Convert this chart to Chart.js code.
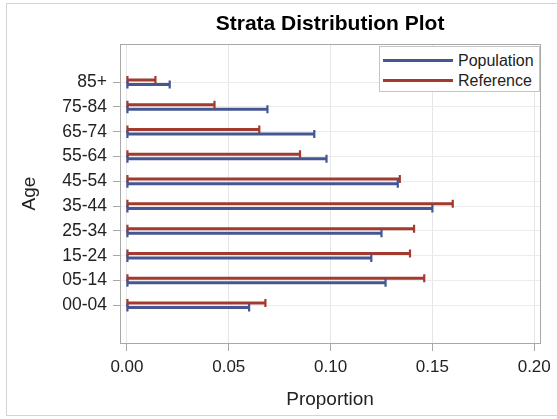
<!DOCTYPE html>
<html>
<head>
<meta charset="utf-8">
<script src="https://cdn.jsdelivr.net/npm/chart.js@4.4.1/dist/chart.umd.min.js"></script>
<style>
  html,body{margin:0;padding:0;background:#fff;}
  #wrap{position:relative;width:557px;height:419px;overflow:hidden;}
  #frame{position:absolute;left:6px;top:3px;width:560px;height:413px;border:1px solid #d4d4d4;box-sizing:border-box;pointer-events:none;}
  #legend{position:absolute;left:379px;top:46px;width:161px;height:46px;border:1px solid #c4c4c4;background:#fff;box-sizing:border-box;
    font-family:"Liberation Sans",Arial,sans-serif;font-size:16px;color:#222;}
  #legend .row{position:absolute;left:3px;height:20px;line-height:20px;white-space:nowrap;}
  #legend .ln{display:inline-block;width:70px;height:3px;vertical-align:middle;margin-right:5px;position:relative;top:-1px;}
</style>
</head>
<body>
<div id="wrap">
  <canvas id="c" width="557" height="419"></canvas>
  <div id="frame"></div>
  <div id="legend"></div>
</div>
<script>
const categories = ["85+","75-84","65-74","55-64","45-54","35-44","25-34","15-24","05-14","00-04"];
const population = [0.021,0.069,0.092,0.098,0.133,0.150,0.125,0.120,0.127,0.060];
const reference  = [0.014,0.043,0.065,0.085,0.134,0.160,0.141,0.139,0.146,0.068];
const xTicks = [0,0.05,0.10,0.15,0.20];

const BLUE="#445694", RED="#A23A2E";
const FONT='"Liberation Sans", Arial, sans-serif';
Chart.defaults.font.family = FONT;
Chart.defaults.color = "#222";

const pts = arr => arr.map((v,i)=>({x:v,y:i}));

// end caps on both ends of each bar
const caps = {
  id:"caps",
  afterDatasetsDraw(chart){
    const ctx = chart.ctx;
    chart.data.datasets.forEach((ds,di)=>{
      chart.getDatasetMeta(di).data.forEach(bar=>{
        const {x,y,base} = bar.getProps(["x","y","base"],true);
        ctx.save(); ctx.strokeStyle = ds.backgroundColor; ctx.lineWidth = 2.2;
        ctx.beginPath();
        [base,x].forEach(px=>{ ctx.moveTo(px,y-4); ctx.lineTo(px,y+4); });
        ctx.stroke(); ctx.restore();
      });
    });
  }
};
const box = {
  id:"box",
  afterDraw(chart){
    const {left,top,right,bottom} = chart.chartArea, ctx = chart.ctx;
    ctx.save(); ctx.strokeStyle="#a8a8a8"; ctx.lineWidth=1;
    ctx.strokeRect(Math.round(left)+0.5,Math.round(top)+0.5,Math.round(right-left),Math.round(bottom-top));
    ctx.restore();
  }
};

const datasets = [
  {label:"Reference", data:pts(reference), backgroundColor:RED},
  {label:"Population", data:pts(population), backgroundColor:BLUE}
];

new Chart(document.getElementById("c"),{
  type:"bar",
  data:{datasets},
  options:{
    indexAxis:"y", responsive:false, animation:false,
    categoryPercentage:0.37, barPercentage:0.65,
    layout:{padding:{left:0,right:13,top:0,bottom:0}},
    plugins:{
      legend:{display:false}, tooltip:{enabled:false},
      title:{display:true, text:"Strata Distribution Plot", fullSize:false, color:"#000",
        font:{size:21,weight:"bold",lineHeight:1.2}, padding:{top:12,bottom:6.8}}
    },
    scales:{
      x:{type:"linear", min:-0.0034, max:0.2029,
        afterBuildTicks:s=>{ s.ticks = xTicks.map(v=>({value:v})); },
        afterFit:s=>{ s.height = 76; },
        ticks:{callback:v=>v.toFixed(2), font:{size:17}, color:"#222", padding:6, maxRotation:0, autoSkip:false},
        grid:{color:"#e6e6e6", tickColor:"#a8a8a8", tickLength:8},
        border:{display:false},
        title:{display:true, text:"Proportion", font:{size:19,lineHeight:1.2}, color:"#222", padding:{top:0,bottom:8}}
      },
      y:{type:"linear", reverse:true, min:-1.54, max:10.52, offset:false,
        afterBuildTicks:s=>{ s.ticks = categories.map((c,i)=>({value:i})); },
        afterFit:s=>{ s.width = 120; },
        ticks:{callback:v=>categories[v], font:{size:17.5}, color:"#222", padding:6, autoSkip:false},
        grid:{color:"#ececec", tickColor:"#a8a8a8", tickLength:7, offset:false},
        border:{display:false},
        title:{display:true, text:"Age", font:{size:19,lineHeight:1.2}, color:"#222", padding:{top:18,bottom:0}}
      }
    }
  },
  plugins:[caps,box]
});

// legend box inside the plot, Population first
const leg = document.getElementById("legend");
[...datasets].reverse().forEach((ds,k)=>{
  leg.insertAdjacentHTML("beforeend",
    `<div class="row" style="top:${4+k*20}px"><span class="ln" style="background:${ds.backgroundColor}"></span>${ds.label}</div>`);
});
</script>
</body>
</html>
